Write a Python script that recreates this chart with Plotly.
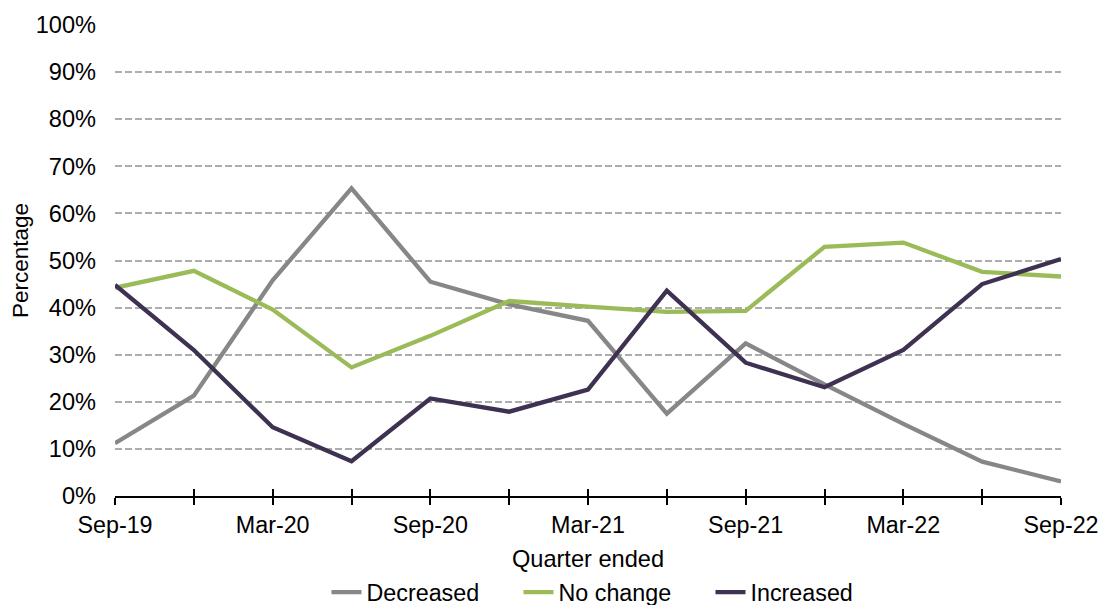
import plotly.graph_objects as go

# Quarterly survey results, Sep-19 to Sep-22
quarters = ["Sep-19", "Dec-19", "Mar-20", "Jun-20", "Sep-20", "Dec-20", "Mar-21",
            "Jun-21", "Sep-21", "Dec-21", "Mar-22", "Jun-22", "Sep-22"]
decreased = [11.2, 21.3, 45.8, 65.3, 45.5, 40.7, 37.2, 17.5, 32.4, 23.7, 15.3, 7.3, 3.1]
no_change = [44.2, 47.8, 39.6, 27.3, 34.0, 41.4, 40.2, 39.1, 39.3, 52.9, 53.8, 47.6, 46.6]
increased = [44.8, 31.0, 14.6, 7.4, 20.7, 17.9, 22.6, 43.6, 28.3, 23.1, 31.0, 45.0, 50.3]

series_names = ["Decreased", "No change", "Increased"]
series_colors = ["#878787", "#9BBB59", "#3F3151"]
series_values = [decreased, no_change, increased]

x_idx = list(range(len(quarters)))
label_idx = x_idx[::2]
label_text = [quarters[i] for i in label_idx]

FONT = "Liberation Sans, Arial, sans-serif"

fig = go.Figure()
for name, color, vals in zip(series_names, series_colors, series_values):
    fig.add_trace(go.Scatter(
        x=x_idx, y=vals, name=name, mode="lines",
        line=dict(color=color, width=4.3),
    ))

fig.update_layout(
    width=1101, height=605,
    margin=dict(l=115, r=40, t=25, b=109, autoexpand=False),
    paper_bgcolor="white", plot_bgcolor="white",
    font=dict(family=FONT, size=22, color="#000000"),
    showlegend=True,
    legend=dict(orientation="h", x=0.528, xanchor="center", y=-0.158, yanchor="top",
                font=dict(size=23.3), traceorder="normal",
                entrywidth=147, entrywidthmode="pixels",
                bgcolor="rgba(0,0,0,0)"),
    xaxis=dict(
        range=[0, len(quarters) - 1],
        tickmode="array", tickvals=label_idx, ticktext=label_text,
        ticks="outside", ticklen=7, tickwidth=1.5, tickcolor="#000000",
        minor=dict(ticks="outside", ticklen=7, tickwidth=1.5, tickcolor="#000000",
                   tickmode="array", tickvals=x_idx),
        showline=True, linecolor="#000000", linewidth=1.5,
        showgrid=False, zeroline=False,
        tickfont=dict(size=23.3),
        ticklabelstandoff=0,
        title=dict(text="Quarter ended", standoff=14, font=dict(size=23.6)),
    ),
    xaxis2=dict(
        overlaying="x", anchor="y", side="bottom",
        range=[0, len(quarters) - 1],
        tickmode="array", tickvals=x_idx, ticktext=[""] * len(x_idx),
        ticks="inside", ticklen=7, tickwidth=1.5, tickcolor="#000000",
        showline=False, showgrid=False, zeroline=False, showticklabels=False,
    ),
    yaxis=dict(
        range=[0, 100], dtick=10, ticksuffix="%",
        showgrid=True, gridcolor="#ADADAD", gridwidth=2, griddash="7px,3px",
        showline=False, zeroline=False, ticks="",
        tickfont=dict(size=23.6),
        ticklabelstandoff=18,
        title=dict(text="Percentage", standoff=0, font=dict(size=22.5)),
    ),
)

# invisible carrier trace so the inner tick marks on xaxis2 are drawn
fig.add_trace(go.Scatter(x=[0], y=[None], xaxis="x2", yaxis="y",
                         showlegend=False, hoverinfo="skip", mode="lines"))

fig.write_html("out.html")
